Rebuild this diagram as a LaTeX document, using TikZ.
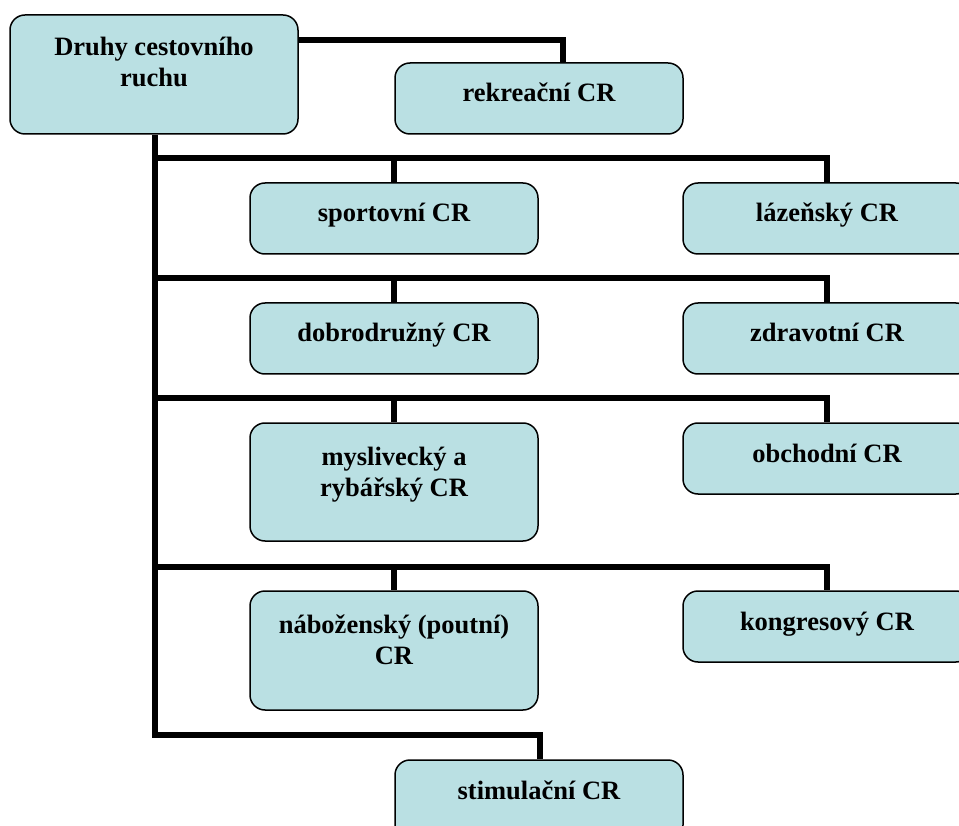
\documentclass[tikz,border=0pt]{standalone}
\usepackage{fontspec}
\setmainfont{Liberation Serif}
\definecolor{boxfill}{RGB}{186,224,227}
\begin{document}
\begin{tikzpicture}[x=1pt,y=-1pt,
  box/.style={draw=black, line width=1.5pt, fill=boxfill, rounded corners=15pt,
    minimum width=288pt, inner sep=0pt, anchor=center},
  lbl/.style={font=\fontsize{26.5}{31}\selectfont\bfseries, align=center, inner sep=0pt, anchor=base},
  conn/.style={draw=black, line width=5.5pt, line join=miter}]
\useasboundingbox (0,0) rectangle (959,826);
\clip (0,0) rectangle (959,826);
% boxes
\node[box, minimum height=119pt] (top) at (154,74.5) {};
\node[box, minimum height=71pt] (rek) at (539,98.5) {};
\node[box, minimum height=71pt] (spo) at (394,218.5) {};
\node[box, minimum height=71pt] (laz) at (827,218.5) {};
\node[box, minimum height=71pt] (dob) at (394,338.5) {};
\node[box, minimum height=71pt] (zdr) at (827,338.5) {};
\node[box, minimum height=118pt] (mys) at (394,482) {};
\node[box, minimum height=71pt] (obc) at (827,458.5) {};
\node[box, minimum height=119pt] (nab) at (394,650.5) {};
\node[box, minimum height=71pt] (kon) at (827,626.5) {};
\node[box, minimum height=80pt] (sti) at (539,800) {};
% labels (base anchor = baseline of the last line)
\node[lbl] (topT) at (154,87) {Druhy cestovního\\ruchu};
\node[lbl] (rekT) at (539,102) {rekreační CR};
\node[lbl] (spoT) at (394,222) {sportovní CR};
\node[lbl] (lazT) at (827,222) {lázeňský CR};
\node[lbl] (dobT) at (394,342) {dobrodružný CR};
\node[lbl] (zdrT) at (827,342) {zdravotní CR};
\node[lbl] (mysT) at (394,496) {myslivecký a\\rybářský CR};
\node[lbl] (obcT) at (827,462) {obchodní CR};
\node[lbl] (nabT) at (394,664) {náboženský (poutní)\\CR};
\node[lbl] (konT) at (827,630) {kongresový CR};
\node[lbl] (stiT) at (539,799) {stimulační CR};
% connector coordinates
\coordinate (c0) at (563,40);
\coordinate (t1) at (155,158);
\coordinate (t2) at (155,278);
\coordinate (t3) at (155,398);
\coordinate (t4) at (155,567);
\coordinate (t5) at (155,735);
\coordinate (s5) at (540,735);
% connectors
\draw[conn] (top.east |- c0) -| (rek.north -| c0);
\draw[conn] (top.south -| t1) -- (t5) -- (s5) -- (sti.north -| s5);
\draw[conn] (t1) -| (laz.north);
\draw[conn] (t1 -| spo.north) -- (spo.north);
\draw[conn] (t2) -| (zdr.north);
\draw[conn] (t2 -| dob.north) -- (dob.north);
\draw[conn] (t3) -| (obc.north);
\draw[conn] (t3 -| mys.north) -- (mys.north);
\draw[conn] (t4) -| (kon.north);
\draw[conn] (t4 -| nab.north) -- (nab.north);
\end{tikzpicture}
\end{document}
